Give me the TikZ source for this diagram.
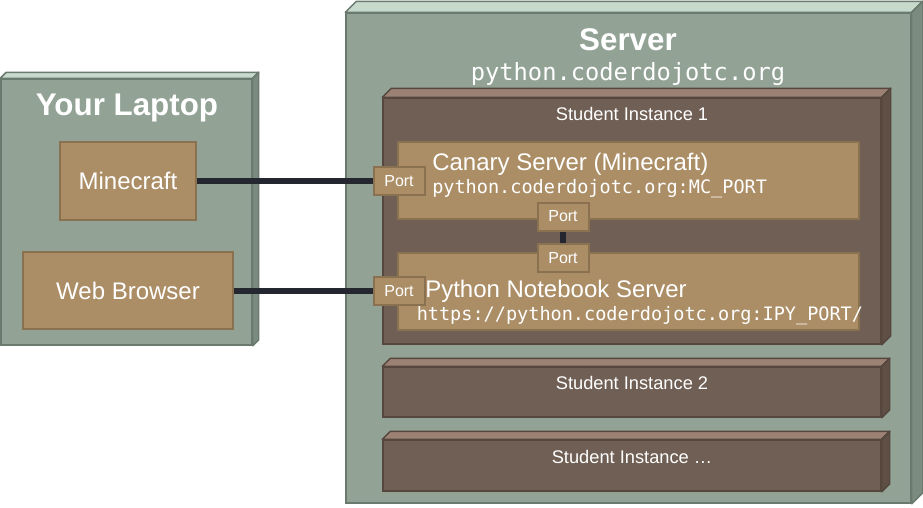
\documentclass[tikz,border=0pt]{standalone}
\usepackage{fontspec}
\setmainfont{Liberation Sans}
\setmonofont{DejaVu Sans Mono}
\usetikzlibrary{calc,fit}
\definecolor{nodefill}{HTML}{92A396}
\definecolor{nodetop}{HTML}{C6D9CB}
\definecolor{nodeside}{HTML}{7B8B7F}
\definecolor{nodeedge}{HTML}{6A7A6E}
\definecolor{instfill}{HTML}{705F54}
\definecolor{insttop}{HTML}{9C8274}
\definecolor{instside}{HTML}{5F4F45}
\definecolor{instedge}{HTML}{56473E}
\definecolor{compfill}{HTML}{AC8E66}
\definecolor{compedge}{HTML}{8A7150}
\definecolor{wire}{HTML}{24272F}
\newcommand\threedfaces[5]{%
  \draw[fill=#3, draw=#5, line width=1.1pt, line join=round]
    (#1.north west) -- ++(#2,-#2) -- ($(#1.north east)+(#2,-#2)$) -- (#1.north east) -- cycle;
  \draw[fill=#4, draw=#5, line width=1.1pt, line join=round]
    (#1.north east) -- ++(#2,-#2) -- ($(#1.south east)+(#2,-#2)$) -- (#1.south east) -- cycle;
}
\tikzset{
  hostbox/.style={fill=nodefill, draw=nodeedge, line width=1.1pt, inner sep=0pt},
  instbox/.style={fill=instfill, draw=instedge, line width=1.1pt, inner sep=0pt},
  compbox/.style={fill=compfill, draw=compedge, line width=1.5pt, inner sep=0pt},
  appbox/.style={compbox, text=white, font=\fontsize{18}{21}\selectfont},
  portbox/.style={compbox, text=white, font=\fontsize{12}{14}\selectfont,
    minimum width=38.25pt, minimum height=21pt},
  titletext/.style={text=white, font=\fontsize{23.5}{28}\selectfont\bfseries, inner sep=0pt},
  bigtext/.style={text=white, font=\fontsize{18}{21}\selectfont, inner sep=0pt},
  insttext/.style={text=white, font=\fontsize{13.7}{16}\selectfont, inner sep=0pt},
  monobig/.style={text=white, font=\fontsize{17.8}{21}\selectfont\ttfamily, inner sep=0pt},
  monosmall/.style={text=white, font=\fontsize{13.9}{16}\selectfont\ttfamily, inner sep=0pt},
  wireline/.style={draw=wire, line width=3.8pt},
}
\begin{document}
\begin{tikzpicture}[x=0.75pt, y=-0.75pt]
\useasboundingbox (0,0) rectangle (923,507);
% server
\node[hostbox, fit={(346,13) (911,503)}] (server) {};
\threedfaces{server}{11}{nodetop}{nodeside}{nodeedge}
% laptop
\node[hostbox, fit={(1,79) (252,345)}] (laptop) {};
\threedfaces{laptop}{6}{nodetop}{nodeside}{nodeedge}
% instances
\node[instbox, fit={(383,98) (881,344)}] (inst1) {};
\threedfaces{inst1}{9}{insttop}{instside}{instedge}
\node[instbox, fit={(383,367) (881,417)}] (inst2) {};
\threedfaces{inst2}{8}{insttop}{instside}{instedge}
\node[instbox, fit={(383,440) (881,491)}] (inst3) {};
\threedfaces{inst3}{8}{insttop}{instside}{instedge}
% components
\node[appbox, minimum width=102pt, minimum height=58.5pt] (minecraft) at (128,181) {Minecraft};
\node[appbox, minimum width=157.5pt, minimum height=57.75pt] (browser) at (128,290.5) {Web Browser};
\node[compbox, fit={(398,142) (859,219)}] (canary) {};
\node[compbox, fit={(398,253) (859,330)}] (notebook) {};
% titles
\node[titletext, anchor=base] (laptopT) at (127,115) {Your Laptop};
\node[titletext, anchor=base] (serverT) at (628,50) {Server};
\node[monobig, anchor=base] (serverU) at (628,80) {python.coderdojotc.org};
\node[insttext, anchor=base] (inst1T) at (632,120) {Student Instance 1};
\node[insttext, anchor=base] (inst2T) at (632,389) {Student Instance 2};
\node[insttext, anchor=base] (inst3T) at (632,463) {Student Instance \dots};
\node[bigtext, anchor=base west] (canaryT) at (432,170.5) {Canary Server (Minecraft)};
\node[monosmall, anchor=base west] (canaryU) at (432,193) {python.coderdojotc.org:MC\_PORT};
\node[bigtext, anchor=base west] (notebookT) at (425,297) {Python Notebook Server};
\node[monosmall, anchor=base west] (notebookU) at (416.5,320) {https://python.coderdojotc.org:IPY\_PORT/};
% ports
\node[portbox] (p1) at (399,181) {Port};
\node[portbox] (p2) at (563,216.5) {Port};
\node[portbox] (p3) at (563,258) {Port};
\node[portbox] (p4) at (399,291) {Port};
% wires
\draw[wireline] (minecraft.east) -- (p1.west);
\draw[wireline] (browser.east |- p4.west) -- (p4.west);
\draw[wireline] (p2.south) -- (p3.north);
\end{tikzpicture}
\end{document}
